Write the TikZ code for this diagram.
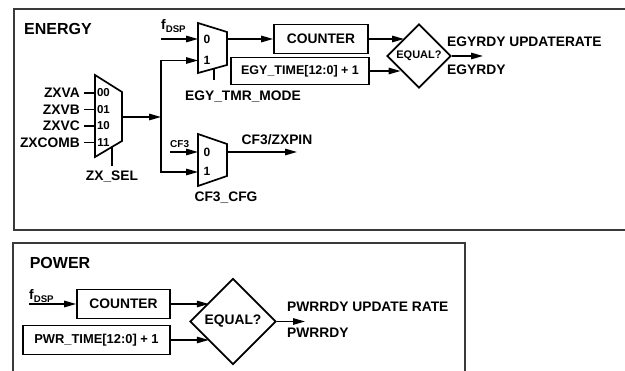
\documentclass[tikz,border=0pt]{standalone}
\usepackage{fontspec}
\setmainfont{Liberation Sans}
\usetikzlibrary{arrows.meta,calc,shapes.geometric}
\newcommand{\labfont}{\fontsize{13.8}{16}\selectfont\bfseries}
\newcommand{\ttlfont}{\fontsize{16}{18}\selectfont\bfseries}
\newcommand{\pinfont}{\fontsize{11.5}{13}\selectfont\bfseries}
\definecolor{framegray}{RGB}{58,58,58}
\tikzset{
  wire/.style={black, line width=1.4pt},
  flow/.style={wire, -{Triangle[length=12pt,width=6.5pt]}},
  frame/.style={draw=framegray, line width=2.4pt},
  blk/.style={draw=black, line width=1.7pt, inner sep=0pt,
              align=center, font=\labfont},
  cmp/.style={diamond, draw=black, line width=1.7pt, inner sep=0pt,
              aspect=1, font=\labfont},
  mux/.style={draw=black, line width=1.7pt, line join=miter},
  lab/.style={inner sep=0pt, font=\labfont},
  ttl/.style={inner sep=0pt, font=\ttlfont},
  pin/.style={inner sep=0pt, font=\pinfont},
}

\begin{document}
\begin{tikzpicture}[x=1pt,y=-1pt]
  \useasboundingbox (0,0) rectangle (625,371);

  % energy section
  \draw[frame] (625,9) -- (14,9) -- (14,230) -- (625,230);
  \node[ttl] (etitle) at (58,29) {ENERGY};

  % zero-crossing select mux
  \draw[mux] (95,75) -- (122,92) -- (122,141) -- (95,157) -- cycle;
  \coordinate (mzx0) at (95,93);
  \coordinate (mzx1) at (95,109.5);
  \coordinate (mzx2) at (95,126);
  \coordinate (mzx3) at (95,142.5);
  \coordinate (mzxo) at (122,117);
  \coordinate (mzxs) at (112,147);
  \coordinate (zxselend) at (112,166);
  \node[lab, anchor=east] (zxa) at (80,93) {ZXVA};
  \node[lab, anchor=east] (zxb) at (80,109.5) {ZXVB};
  \node[lab, anchor=east] (zxc) at (80,126) {ZXVC};
  \node[lab, anchor=east] (zxcomb) at (80,142.5) {ZXCOMB};
  \draw[wire, shorten <=4pt] (zxa.east) -- (mzx0);
  \draw[wire, shorten <=4pt] (zxb.east) -- (mzx1);
  \draw[wire, shorten <=4pt] (zxc.east) -- (mzx2);
  \draw[wire, shorten <=4pt] (zxcomb.east) -- (mzx3);
  \node[pin] (p00) at (103.5,93) {00};
  \node[pin] (p01) at (103.5,109.5) {01};
  \node[pin] (p10) at (103.5,126) {10};
  \node[pin] (p11) at (103.5,142.5) {11};
  \draw[wire] (mzxs) -- (zxselend);
  \node[lab] (zxsel) at (112,177) {ZX\_SEL};

  \coordinate (jn) at (161,117);
  \draw[flow] (mzxo) -- (jn);

  % energy timer mux
  \draw[mux] (198,23) -- (227,32) -- (227,65) -- (198,73) -- cycle;
  \coordinate (megy0) at (198,39);
  \coordinate (megy1) at (198,60.5);
  \coordinate (megyo) at (227,39);
  \coordinate (megys) at (214,68.5);
  \coordinate (egymodeend) at (214,80);
  \node[pin, font=\fontsize{12}{14}\selectfont\bfseries] (e0) at (207,39.5) {0};
  \node[pin, font=\fontsize{12}{14}\selectfont\bfseries] (e1) at (207,60.5) {1};
  \draw[wire] (megys) -- (egymodeend);
  \node[lab] (egymode) at (243,97) {EGY\_TMR\_MODE};
  \node[lab, anchor=base west] (efdsp) at (161,30) {f\textsubscript{DSP}};
  \coordinate (efin) at (161,39);
  \draw[flow] (efin) -- (megy0);
  \draw[flow] (jn) |- (megy1);

  % CF3 mux
  \draw[mux] (198,134) -- (227,144) -- (227,176) -- (198,186) -- cycle;
  \coordinate (mcf0) at (198,152);
  \coordinate (mcf1) at (198,172);
  \coordinate (mcfo) at (227,152);
  \coordinate (cfend) at (297,152);
  \node[pin, font=\fontsize{12}{14}\selectfont\bfseries] (c0) at (207,152) {0};
  \node[pin, font=\fontsize{12}{14}\selectfont\bfseries] (c1) at (207,171.5) {1};
  \node[pin, font=\fontsize{10}{12}\selectfont\bfseries, anchor=base west] (cf3in) at (170,148) {CF3};
  \coordinate (cfin) at (170,152);
  \draw[flow] (cfin) -- (mcf0);
  \draw[flow] (jn) |- (mcf1);
  \draw[flow] (mcfo) -- (cfend);
  \node[lab] (cfpin) at (277,140) {CF3/ZXPIN};
  \node[lab] (cfcfg) at (226,198) {CF3\_CFG};

  % energy counter and compare
  \node[blk, minimum width=94pt, minimum height=29pt] (ecnt) at (321,39) {COUNTER};
  \node[blk, minimum width=138pt, minimum height=27pt,
        font=\fontsize{12.5}{14}\selectfont\bfseries] (etime) at (300,71) {EGY\_TIME[12:0] + 1};
  \draw[flow] (megyo) -- (ecnt.west);
  \node[cmp, minimum width=64pt, minimum height=64pt,
        font=\fontsize{11}{13}\selectfont\bfseries] (eeq) at (419,56) {EQUAL?};
  \draw[flow] (ecnt.east) -- (ecnt.east -| eeq.130);
  \draw[flow] (etime.east) -- (etime.east -| eeq.218);
  \coordinate (eout) at (483,56);
  \draw[flow] (eeq.east) -- (eout);
  \node[lab, anchor=west] (eupd) at (447,42) {EGYRDY UPDATERATE};
  \node[lab, anchor=west] (erdy) at (447,70) {EGYRDY};

  % power section
  \draw[frame] (13,371) -- (13,243) -- (465,243) -- (465,371);
  \node[ttl] (ptitle) at (60,263) {POWER};
  \node[lab, anchor=base west] (pfdsp) at (29,300) {f\textsubscript{DSP}};
  \node[blk, minimum width=93pt, minimum height=29pt] (pcnt) at (123.5,304) {COUNTER};
  \node[blk, minimum width=147pt, minimum height=29pt,
        font=\fontsize{12.9}{15}\selectfont\bfseries] (ptime) at (96.5,340) {PWR\_TIME[12:0] + 1};
  \coordinate (pfin) at (29,304);
  \draw[flow] (pfin) -- (pcnt.west);
  \node[cmp, minimum width=86pt, minimum height=86pt] (peq) at (233,321.5) {EQUAL?};
  \draw[flow] (pcnt.east) -- (pcnt.east -| peq.141);
  \draw[flow] (ptime.east) -- (ptime.east -| peq.219);
  \coordinate (pout) at (305,321.5);
  \draw[flow] (peq.east) -- (pout);
  \node[lab, anchor=west] (pupd) at (287,307) {PWRRDY UPDATE RATE};
  \node[lab, anchor=west] (prdy) at (287,333) {PWRRDY};
\end{tikzpicture}
\end{document}
